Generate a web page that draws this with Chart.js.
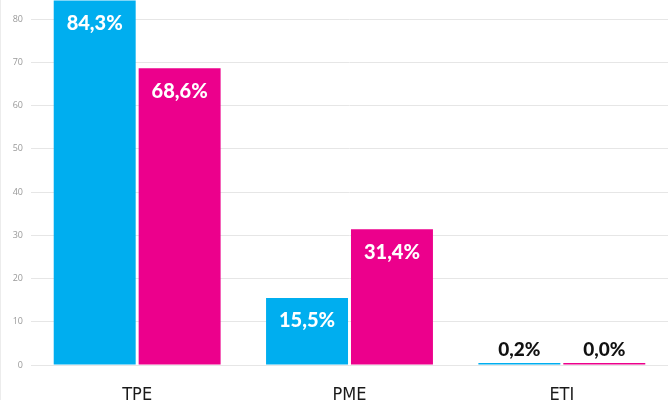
<!DOCTYPE html>
<html>
<head>
<meta charset="utf-8">
<script src="https://cdn.jsdelivr.net/npm/chart.js@4.4.1/dist/chart.umd.min.js"></script>
<style>
  html, body { margin: 0; padding: 0; background: #fff; }
  #wrap { width: 671px; height: 400px; border-left: 1px solid #ececec; }
</style>
</head>
<body>
<div id="wrap"><canvas id="chart" width="671" height="400"></canvas></div>
<script>
// catégories et séries
const categories = ['TPE', 'PME', 'ETI'];
const seriesBlue = [84.3, 15.5, 0.2];
const seriesPink = [68.6, 31.4, 0.0];
const yTicks = [0, 10, 20, 30, 40, 50, 60, 70, 80];

const BLUE = '#00aeef';
const PINK = '#ec008c';

// Étiquettes de valeur dans / au-dessus des barres
const valueLabels = {
  id: 'valueLabels',
  afterDatasetsDraw(chart) {
    const ctx = chart.ctx;
    ctx.save();
    ctx.textAlign = 'center';
    ctx.textBaseline = 'middle';
    chart.data.datasets.forEach((ds, di) => {
      chart.getDatasetMeta(di).data.forEach((bar, i) => {
        const v = ds.data[i];
        const txt = v.toFixed(1).replace('.', ',') + '%';
        const h = bar.base - bar.y;
        if (h > 40) {
          ctx.fillStyle = '#fff';
          ctx.font = '900 20px Lato';
          ctx.fillText(txt, bar.x, bar.y + 23);
        } else {
          ctx.fillStyle = '#111';
          ctx.font = '900 19px Lato';
          ctx.fillText(txt, bar.x, bar.y - 13);
        }
      });
    });
    ctx.restore();
  }
};

new Chart(document.getElementById('chart'), {
  type: 'bar',
  data: {
    labels: categories,
    datasets: [
      { data: seriesBlue, backgroundColor: BLUE, minBarLength: 2 },
      { data: seriesPink, backgroundColor: PINK, minBarLength: 2 }
    ]
  },
  options: {
    responsive: false,
    animation: false,
    layout: { padding: { top: 0, right: 4, left: 0, bottom: 0 } },
    datasets: {
      bar: { categoryPercentage: 0.8, barPercentage: 0.965 }
    },
    plugins: {
      legend: { display: false },
      tooltip: { enabled: false }
    },
    scales: {
      x: {
        grid: { display: false, drawTicks: false },
        border: { display: false },
        ticks: {
          padding: 20,
          color: '#1a1a1a',
          font: { family: "'DejaVu Sans Condensed', 'Liberation Sans', sans-serif", size: 18 }
        },
        afterFit(scale) { scale.height = 35; scale.paddingLeft = 0; scale.paddingRight = 0; }
      },
      y: {
        min: 0,
        max: 84.4,
        afterBuildTicks(scale) { scale.ticks = yTicks.map(v => ({ value: v })); },
        grid: { color: '#e6e6e6', lineWidth: 1, drawTicks: false },
        border: { display: false },
        ticks: {
          padding: 8,
          color: '#999',
          font: { family: 'Open Sans', size: 9 }
        },
        afterFit(scale) { scale.width = 30; scale.paddingTop = 0; scale.paddingBottom = 0; }
      }
    }
  },
  plugins: [valueLabels]
});
</script>
</body>
</html>
